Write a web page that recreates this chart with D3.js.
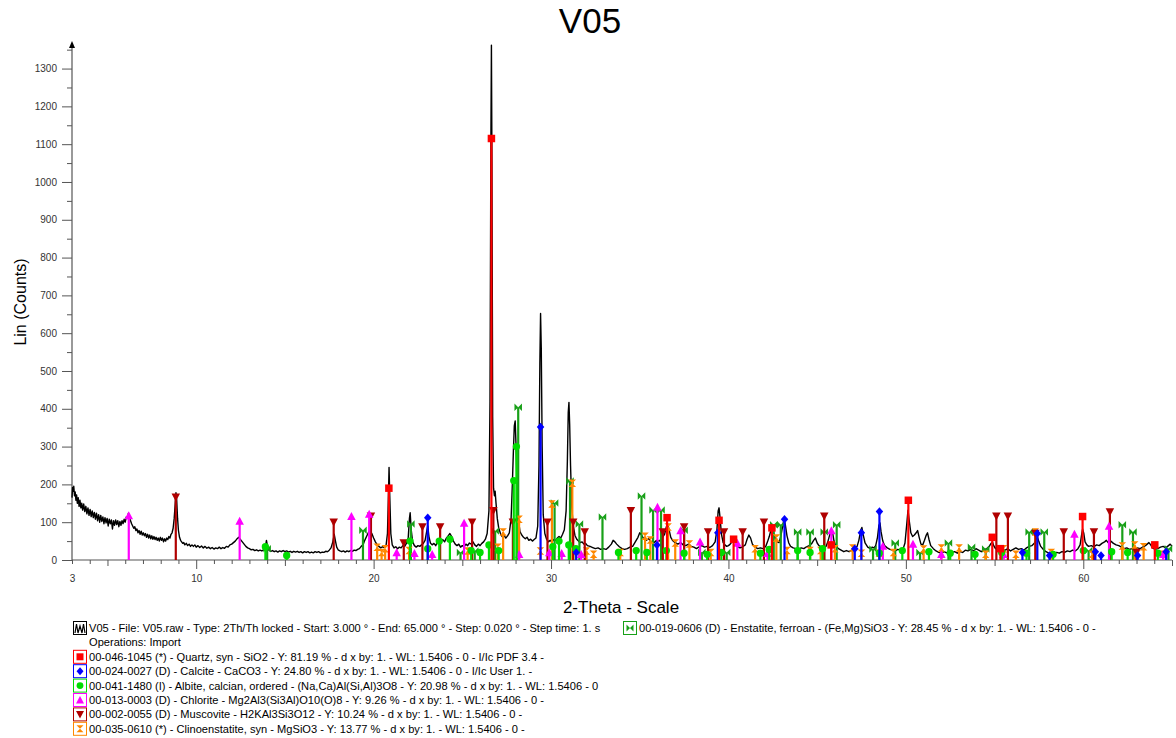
<!DOCTYPE html>
<html><head><meta charset="utf-8">
<script src="https://cdn.jsdelivr.net/npm/d3@7"></script>
<style>
html,body{margin:0;padding:0;background:#fff;}
svg{display:block;font-family:"Liberation Sans",Arial,sans-serif;}
</style></head>
<body><svg id="c" width="1176" height="738"></svg>
<script>
// ---------- DATA ----------
const title = "V05";
const xLabel = "2-Theta - Scale";
const yLabel = "Lin (Counts)";
const xTickLabels = [3,10,20,30,40,50,60];
const yTickValues = [0,100,200,300,400,500,600,700,800,900,1000,1100,1200,1300];

// measured diffractogram [2theta, counts]
const pattern = [[3.00,165],[3.03,192],[3.07,182],[3.10,195],[3.14,170],[3.18,180],[3.22,158],[3.26,172],[3.30,150],[3.35,165],[3.40,142],[3.45,158],[3.50,138],[3.55,150],[3.60,132],[3.66,148],[3.72,128],[3.78,142],[3.84,122],[3.90,138],[3.96,118],[4.02,134],[4.08,115],[4.14,130],[4.20,112],[4.26,126],[4.32,108],[4.38,124],[4.44,104],[4.50,120],[4.56,100],[4.62,118],[4.68,102],[4.74,114],[4.80,96],[4.86,112],[4.92,98],[4.98,110],[5.04,90],[5.10,108],[5.16,96],[5.22,106],[5.28,82],[5.34,104],[5.40,92],[5.46,106],[5.52,94],[5.58,104],[5.64,88],[5.70,102],[5.76,92],[5.82,104],[5.88,96],[5.94,108],[6.00,100],[6.06,114],[6.12,110],[6.18,124],[6.24,112],[6.30,104],[6.36,96],[6.42,90],[6.48,84],[6.54,88],[6.60,78],[6.66,82],[6.72,72],[6.78,78],[6.84,68],[6.90,76],[6.96,66],[7.02,72],[7.08,64],[7.14,70],[7.20,60],[7.26,68],[7.32,58],[7.38,66],[7.44,56],[7.50,64],[7.56,55],[7.62,62],[7.68,54],[7.74,60],[7.80,52],[7.86,58],[7.92,50],[7.98,60],[8.04,52],[8.10,58],[8.16,48],[8.22,56],[8.28,50],[8.34,58],[8.40,54],[8.46,62],[8.52,58],[8.58,68],[8.64,72],[8.70,84],[8.76,110],[8.82,150],[8.86,178],[8.90,160],[8.95,110],[9.00,78],[9.06,60],[9.12,52],[9.18,48],[9.24,44],[9.30,46],[9.36,40],[9.44,44],[9.52,38],[9.60,42],[9.68,36],[9.76,40],[9.84,36],[9.92,40],[10.0,34],[10.1,38],[10.2,33],[10.3,37],[10.4,32],[10.5,36],[10.6,31],[10.7,34],[10.8,30],[10.9,33],[11.0,29],[11.1,32],[11.2,30],[11.3,34],[11.4,30],[11.5,33],[11.6,31],[11.7,36],[11.8,34],[11.9,40],[12.0,42],[12.1,46],[12.2,50],[12.3,56],[12.4,60],[12.5,54],[12.6,48],[12.7,42],[12.8,36],[12.9,32],[13.0,30],[13.1,27],[13.2,28],[13.3,25],[13.4,27],[13.5,24],[13.6,26],[13.7,24],[13.8,27],[13.9,34],[13.96,52],[14.02,36],[14.1,26],[14.2,23],[14.3,25],[14.4,22],[14.5,24],[14.6,21],[14.7,24],[14.8,22],[14.9,25],[15.0,22],[15.1,24],[15.2,21],[15.3,23],[15.4,20],[15.5,23],[15.6,21],[15.7,23],[15.8,20],[15.9,22],[16.0,19],[16.1,22],[16.2,20],[16.3,22],[16.4,19],[16.5,21],[16.6,19],[16.7,22],[16.8,20],[16.9,22],[17.0,19],[17.1,21],[17.2,20],[17.3,23],[17.4,22],[17.5,26],[17.6,32],[17.7,48],[17.78,68],[17.85,50],[17.92,34],[18.0,27],[18.1,24],[18.2,22],[18.3,24],[18.4,21],[18.5,24],[18.6,22],[18.7,25],[18.8,23],[18.9,26],[19.0,25],[19.1,28],[19.2,30],[19.3,36],[19.4,40],[19.5,52],[19.6,62],[19.7,72],[19.8,78],[19.9,70],[20.0,58],[20.1,48],[20.2,40],[20.3,36],[20.4,32],[20.5,35],[20.6,33],[20.7,38],[20.78,70],[20.84,180],[20.87,245],[20.91,170],[20.97,70],[21.05,40],[21.15,32],[21.25,35],[21.35,30],[21.45,34],[21.55,32],[21.65,38],[21.75,36],[21.85,44],[21.95,58],[22.02,110],[22.06,125],[22.12,80],[22.2,48],[22.3,38],[22.4,34],[22.5,38],[22.6,36],[22.7,40],[22.8,44],[22.9,52],[23.0,78],[23.05,90],[23.12,62],[23.2,45],[23.3,40],[23.4,44],[23.5,38],[23.6,48],[23.7,56],[23.8,50],[23.9,54],[24.0,48],[24.1,58],[24.2,64],[24.3,70],[24.4,62],[24.5,50],[24.6,42],[24.7,38],[24.8,42],[24.9,34],[25.0,38],[25.1,35],[25.2,42],[25.3,38],[25.4,45],[25.5,42],[25.6,48],[25.7,40],[25.8,36],[25.9,42],[26.0,38],[26.1,44],[26.2,48],[26.3,55],[26.4,70],[26.5,130],[26.56,420],[26.61,1100],[26.64,1362],[26.67,1050],[26.71,380],[26.76,190],[26.81,170],[26.85,182],[26.9,150],[26.97,110],[27.05,85],[27.15,70],[27.25,62],[27.35,66],[27.45,58],[27.55,64],[27.65,72],[27.75,110],[27.82,200],[27.88,290],[27.93,355],[27.98,368],[28.03,300],[28.08,200],[28.15,110],[28.25,75],[28.35,66],[28.45,60],[28.55,56],[28.65,60],[28.75,52],[28.85,55],[28.95,50],[29.05,54],[29.15,58],[29.25,90],[29.32,250],[29.37,520],[29.41,652],[29.45,560],[29.5,300],[29.56,120],[29.65,70],[29.75,55],[29.85,48],[29.95,52],[30.05,48],[30.15,54],[30.25,52],[30.35,58],[30.45,62],[30.55,58],[30.65,68],[30.75,80],[30.85,130],[30.92,260],[30.97,390],[31.01,417],[31.05,360],[31.1,250],[31.17,140],[31.25,90],[31.35,65],[31.45,55],[31.55,50],[31.65,46],[31.75,48],[31.85,42],[31.95,44],[32.05,38],[32.2,36],[32.35,33],[32.5,30],[32.65,32],[32.8,28],[32.95,30],[33.1,28],[33.25,34],[33.4,42],[33.5,52],[33.6,48],[33.7,42],[33.85,35],[34.0,30],[34.15,28],[34.3,30],[34.45,34],[34.6,36],[34.75,48],[34.9,60],[35.0,72],[35.1,66],[35.2,58],[35.35,52],[35.5,56],[35.65,48],[35.8,46],[35.95,52],[36.1,50],[36.25,58],[36.4,68],[36.5,88],[36.58,95],[36.66,78],[36.75,60],[36.85,52],[37.0,46],[37.15,42],[37.3,46],[37.45,40],[37.6,38],[37.75,42],[37.9,36],[38.05,34],[38.2,30],[38.35,35],[38.5,38],[38.65,34],[38.8,36],[38.95,33],[39.1,38],[39.25,48],[39.35,80],[39.42,130],[39.47,138],[39.53,110],[39.6,70],[39.7,46],[39.8,40],[39.9,36],[40.0,38],[40.1,42],[40.2,48],[40.3,56],[40.4,45],[40.5,36],[40.65,32],[40.8,35],[40.95,40],[41.05,55],[41.15,66],[41.25,58],[41.35,42],[41.5,34],[41.65,30],[41.8,32],[41.95,30],[42.1,36],[42.2,48],[42.3,62],[42.4,80],[42.47,88],[42.55,70],[42.65,55],[42.75,48],[42.85,46],[42.95,62],[43.05,88],[43.13,108],[43.2,95],[43.3,64],[43.4,45],[43.5,36],[43.65,32],[43.8,30],[43.95,28],[44.1,32],[44.25,30],[44.4,35],[44.55,38],[44.7,44],[44.8,52],[44.9,58],[45.0,45],[45.1,38],[45.25,34],[45.4,30],[45.5,36],[45.6,48],[45.7,65],[45.8,80],[45.88,70],[45.95,50],[46.05,38],[46.2,30],[46.35,26],[46.5,22],[46.65,25],[46.8,22],[46.95,26],[47.1,30],[47.25,36],[47.35,52],[47.45,78],[47.52,86],[47.6,66],[47.7,45],[47.85,34],[48.0,30],[48.1,34],[48.2,32],[48.3,38],[48.4,60],[48.48,92],[48.54,98],[48.6,75],[48.7,50],[48.8,38],[48.95,32],[49.1,28],[49.25,26],[49.4,24],[49.55,28],[49.7,26],[49.85,30],[49.95,45],[50.05,95],[50.12,132],[50.2,100],[50.28,72],[50.38,62],[50.48,66],[50.58,72],[50.66,78],[50.75,60],[50.85,42],[50.95,40],[51.05,52],[51.15,66],[51.22,72],[51.3,55],[51.4,38],[51.55,30],[51.7,24],[51.85,20],[52.0,18],[52.15,22],[52.3,19],[52.45,24],[52.6,20],[52.75,22],[52.9,18],[53.05,22],[53.2,20],[53.35,26],[53.5,24],[53.65,28],[53.8,24],[53.95,30],[54.1,26],[54.25,22],[54.4,26],[54.55,30],[54.7,36],[54.8,44],[54.88,48],[54.95,38],[55.05,30],[55.15,34],[55.3,36],[55.45,28],[55.6,26],[55.75,30],[55.9,24],[56.05,28],[56.2,32],[56.35,28],[56.5,30],[56.65,26],[56.8,32],[56.95,36],[57.1,38],[57.25,45],[57.35,56],[57.42,60],[57.5,48],[57.6,36],[57.75,28],[57.9,22],[58.05,18],[58.2,20],[58.35,17],[58.5,20],[58.65,18],[58.8,22],[58.95,20],[59.1,24],[59.25,22],[59.4,26],[59.55,24],[59.7,30],[59.82,40],[59.9,65],[59.96,82],[60.03,70],[60.1,48],[60.2,40],[60.3,36],[60.45,38],[60.6,35],[60.75,40],[60.9,38],[61.05,44],[61.2,48],[61.3,52],[61.4,46],[61.55,50],[61.7,44],[61.85,40],[62.0,38],[62.15,34],[62.3,30],[62.45,32],[62.6,28],[62.75,30],[62.9,28],[63.05,32],[63.2,30],[63.35,34],[63.5,38],[63.6,42],[63.7,46],[63.8,40],[63.9,32],[64.05,28],[64.2,30],[64.35,34],[64.5,36],[64.65,32],[64.8,38],[64.9,42],[65.0,36]];

// reference stick patterns [2theta, drawn height in counts]
const quartzSticks = [[20.86,190],[26.64,1115],[36.54,112],[39.47,105],[40.29,55],[42.45,85],[45.79,40],[50.14,158],[54.87,60],[55.33,30],[59.96,115],[64.03,40]];
const calciteSticks = [[23.05,112],[29.41,352],[31.42,20],[35.97,40],[39.40,72],[43.16,108],[47.12,30],[47.49,72],[48.51,128],[56.57,20],[57.41,70],[58.10,12],[60.68,22],[61.0,12],[63.06,12],[64.67,22]];
const albiteSticks = [[13.9,35],[15.1,12],[22.05,50],[23.05,30],[23.7,50],[24.3,55],[25.5,25],[26.0,20],[26.5,40],[27.05,25],[27.9,210],[28.05,300],[30.1,35],[30.45,50],[31.0,40],[31.4,30],[33.8,20],[34.8,25],[35.4,20],[36.5,25],[37.5,18],[38.8,15],[39.6,20],[41.8,18],[42.3,28],[43.9,25],[44.6,20],[45.3,30],[48.5,18],[49.8,25],[51.3,22],[52.5,18],[53.9,15],[55.4,20],[56.8,18],[58.3,15],[60.0,25],[61.6,22],[62.5,20],[64.2,18]];
const chloriteSticks = [[6.2,118],[12.45,103],[18.75,116],[19.75,122],[21.3,20],[22.3,18],[23.3,15],[25.1,98],[28.2,15],[29.9,20],[30.6,18],[31.7,15],[36.0,140],[37.3,78],[38.4,48],[40.5,45],[42.2,18],[45.8,78],[48.7,37],[50.4,42],[52.0,15],[55.5,15],[59.5,69],[61.45,90],[64.5,15]];
const muscoviteSticks = [[8.85,166],[17.75,100],[19.85,116],[21.7,45],[22.75,87],[23.75,87],[25.55,100],[26.75,130],[27.85,100],[29.8,100],[31.25,100],[31.9,74],[34.5,130],[36.3,74],[37.5,87],[38.85,74],[39.75,74],[40.8,74],[42.0,100],[45.4,116],[55.1,116],[55.75,116],[57.3,70],[58.9,74],[60.6,74],[61.5,127],[63.0,20]];
const clinoenstatiteSticks = [[20.2,34],[20.45,20],[20.65,30],[22.0,25],[25.3,24],[27.0,34],[27.3,74],[28.2,108],[29.4,24],[30.05,148],[31.2,203],[32.0,24],[32.4,15],[33.9,20],[35.3,63],[35.6,53],[36.6,87],[37.0,45],[37.8,42],[39.0,20],[41.5,30],[42.7,58],[43.3,25],[44.6,25],[45.2,25],[46.0,30],[47.0,32],[47.5,18],[48.5,18],[49.3,20],[51.0,29],[52.0,32],[53.0,32],[54.5,15],[55.5,30],[56.2,15],[57.3,74],[58.2,20],[60.5,15],[62.2,37],[62.9,40],[63.4,35],[64.5,15]];
const enstatiteSticks = [[14.0,30],[19.4,79],[22.1,95],[24.9,20],[25.7,24],[26.85,77],[28.15,404],[30.2,151],[31.07,209],[31.6,95],[32.9,114],[35.1,169],[35.75,132],[36.2,132],[37.5,79],[38.5,20],[39.9,20],[42.55,93],[42.95,93],[43.9,74],[44.6,74],[45.4,74],[46.1,93],[48.15,29],[49.4,45],[50.8,20],[52.4,45],[53.7,34],[54.5,29],[56.95,74],[57.8,74],[60.3,25],[62.2,93],[62.8,74],[64.8,30]];

const scanLegend = "V05 - File: V05.raw - Type: 2Th/Th locked - Start: 3.000 ° - End: 65.000 ° - Step: 0.020 ° - Step time: 1. s";
const scanLegend2 = "Operations: Import";
const phaseNames = [
 "00-046-1045 (*) - Quartz, syn - SiO2 - Y: 81.19 % - d x by: 1. - WL: 1.5406 - 0 - I/Ic PDF 3.4 -",
 "00-024-0027 (D) - Calcite - CaCO3 - Y: 24.80 % - d x by: 1. - WL: 1.5406 - 0 - I/Ic User 1. -",
 "00-041-1480 (I) - Albite, calcian, ordered - (Na,Ca)Al(Si,Al)3O8 - Y: 20.98 % - d x by: 1. - WL: 1.5406 - 0",
 "00-013-0003 (D) - Chlorite - Mg2Al3(Si3Al)O10(O)8 - Y: 9.26 % - d x by: 1. - WL: 1.5406 - 0 -",
 "00-002-0055 (D) - Muscovite - H2KAl3Si3O12 - Y: 10.24 % - d x by: 1. - WL: 1.5406 - 0 -",
 "00-035-0610 (*) - Clinoenstatite, syn - MgSiO3 - Y: 13.77 % - d x by: 1. - WL: 1.5406 - 0 -",
 "00-019-0606 (D) - Enstatite, ferroan - (Fe,Mg)SiO3 - Y: 28.45 % - d x by: 1. - WL: 1.5406 - 0 -"
];
const phaseColors = ["#ff0000","#0000ff","#00dd00","#ff00ff","#b00000","#ff8800","#18a018"];
const phaseSymbols = ["square","diamond","circle","triUp","triDown","hourglass","bowtie"];
const phaseSticks = [quartzSticks,calciteSticks,albiteSticks,chloriteSticks,muscoviteSticks,clinoenstatiteSticks,enstatiteSticks];

// ---------- DRAW ----------
const svg = d3.select("#c");
const FONT = '"Liberation Sans",Arial,sans-serif';
const x = d3.scaleLinear().domain([3,65]).range([72,1172]);
const y = d3.scaleLinear().domain([0,1365]).range([560,44]);

function symPath(kind, s){
  const h = s/2;
  switch(kind){
    case "square": return `M${-h},${-h}H${h}V${h}H${-h}Z`;
    case "diamond": return `M0,${-h-0.5}L${h},0L0,${h+0.5}L${-h},0Z`;
    case "circle": return d3.symbol(d3.symbolCircle, s*s*0.75)();
    case "triUp": return `M0,${-h-0.5}L${h+0.5},${h}L${-h-0.5},${h}Z`;
    case "triDown": return `M0,${h+0.5}L${h+0.5},${-h}L${-h-0.5},${-h}Z`;
    case "hourglass": return `M${-h},${-h}H${h}L${-h},${h}H${h}Z`;
    case "bowtie": return `M${-h},${-h}V${h}L${h},${-h}V${h}Z`;
  }
}

// axes
const gx = svg.append("g").attr("transform","translate(0,560)");
const minorX = d3.range(3,66,1).filter(v=>v%5!==0);
const midX = d3.range(5,66,10);
const majX = d3.range(10,61,10);
gx.append("g").call(d3.axisBottom(x).tickValues(minorX).tickSize(4).tickFormat("")).call(g=>g.select(".domain").remove());
gx.append("g").call(d3.axisBottom(x).tickValues(midX).tickSize(6).tickFormat("")).call(g=>g.select(".domain").remove());
gx.append("g").call(d3.axisBottom(x).tickValues(majX).tickSize(9).tickFormat("")).call(g=>g.select(".domain").remove());
const gxl = gx.append("g").call(d3.axisBottom(x).tickValues(xTickLabels).tickSize(0).tickPadding(15).tickFormat(d3.format("d")));
gxl.select(".domain").remove();
gx.selectAll(".tick line").attr("stroke","#555");
gx.selectAll(".tick text").attr("font-family",FONT).attr("font-size",10).attr("fill","#333");
gx.append("line").attr("x1",x(3)).attr("x2",x(65)).attr("stroke","#555").attr("stroke-width",1.2);

const gy = svg.append("g").attr("transform","translate(72,0)");
gy.append("g").call(d3.axisLeft(y).tickValues(d3.range(50,1351,100)).tickSize(5).tickFormat("")).call(g=>g.select(".domain").remove());
gy.append("g").call(d3.axisLeft(y).tickValues(yTickValues).tickSize(10).tickPadding(5).tickFormat(d3.format("d"))).call(g=>g.select(".domain").remove());
gy.selectAll(".tick line").attr("stroke","#555");
gy.selectAll(".tick text").attr("font-family",FONT).attr("font-size",10).attr("fill","#333");
gy.append("line").attr("y1",y(0)).attr("y2",y(1365)+2).attr("stroke","#555").attr("stroke-width",1.2);
gy.append("path").attr("d",`M0,${y(1365)-3}L3,${y(1365)+4}L-3,${y(1365)+4}Z`).attr("fill","#000");

// pattern line
svg.append("path").datum(pattern)
  .attr("d", d3.line().x(d=>x(d[0])).y(d=>y(d[1])))
  .attr("fill","none").attr("stroke","#000").attr("stroke-width",1.4).attr("stroke-linejoin","round");

// sticks (last phase drawn first so quartz ends on top)
for(let i=phaseSticks.length-1;i>=0;i--){
  const g = svg.append("g");
  g.selectAll("line").data(phaseSticks[i]).join("line")
    .attr("x1",d=>x(d[0])).attr("x2",d=>x(d[0]))
    .attr("y1",y(0)).attr("y2",d=>y(d[1]))
    .attr("stroke",phaseColors[i]).attr("stroke-width",2.2);
  g.selectAll("path").data(phaseSticks[i]).join("path")
    .attr("transform",d=>`translate(${x(d[0])},${y(d[1])})`)
    .attr("d",symPath(phaseSymbols[i],7.5))
    .attr("fill",phaseColors[i]);
}

// titles
svg.append("text").attr("x",590).attr("y",33).attr("text-anchor","middle")
  .attr("font-family",FONT).attr("font-size",35).text(title);
svg.append("text").attr("x",621).attr("y",613).attr("text-anchor","middle")
  .attr("font-family",FONT).attr("font-size",17).text(xLabel);
svg.append("text").attr("transform","translate(26,302) rotate(-90)").attr("text-anchor","middle")
  .attr("font-family",FONT).attr("font-size",16).text(yLabel);

// legend
const rowY = i => 628 + i*14.4;
const leg = svg.append("g").attr("font-family",FONT).attr("font-size",11.1);
function legendRow(xIcon, row, idx, label){
  const cy = rowY(row);
  const col = idx<0 ? "#000" : phaseColors[idx];
  leg.append("rect").attr("x",xIcon+0.5).attr("y",cy-6.5).attr("width",13).attr("height",13)
    .attr("fill","#fff").attr("stroke",col).attr("stroke-width",1);
  if(idx<0){
    leg.append("path").attr("d",`M${xIcon+2},${cy+5}L${xIcon+3.5},${cy-4}L${xIcon+5},${cy+5}L${xIcon+7},${cy-2}L${xIcon+9},${cy+5}L${xIcon+10.5},${cy-4}L${xIcon+12},${cy+5}`)
      .attr("fill","none").attr("stroke","#000").attr("stroke-width",1.2);
  } else {
    leg.append("path").attr("transform",`translate(${xIcon+7},${cy})`).attr("d",symPath(phaseSymbols[idx],7)).attr("fill",col);
  }
  leg.append("text").attr("x",xIcon+16).attr("y",cy+4).text(label);
}
legendRow(73,0,-1,scanLegend);
leg.append("text").attr("x",89).attr("y",rowY(1)+4).text(scanLegend2);
for(let i=0;i<6;i++) legendRow(73,i+2,i,phaseNames[i]);
legendRow(623,0,6,phaseNames[6]);
</script></body></html>
